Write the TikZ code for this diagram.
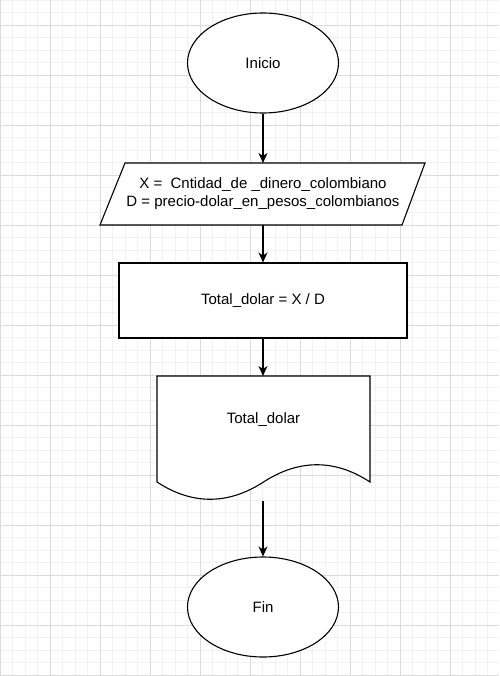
\documentclass[tikz,border=0pt]{standalone}
\usepackage{fontspec}
\setmainfont{Liberation Sans}
\usetikzlibrary{arrows.meta, positioning, shapes.geometric}

\tikzset{
    startstop/.style={ellipse, draw, line width=1.1pt, fill=white,
        minimum width=151pt, minimum height=100pt},
    processbox/.style={rectangle, draw, line width=1.1pt, fill=white,
        minimum width=288pt, minimum height=75pt},
    shapeline/.style={draw, line width=1.1pt, fill=white},
    flow/.style={-{Stealth[length=10pt, width=9pt, inset=3pt]}, line width=1.1pt}
}

\begin{document}
\begin{tikzpicture}[x=1pt, y=-1pt, font=\fontsize{15}{18}\selectfont]
        \useasboundingbox (0,0) rectangle (499,676);
        % grid
        \foreach \g in {0,12.5,...,500}
            \draw[black!5, line width=0.8pt] (\g,0) -- (\g,676);
        \foreach \g in {0,12.5,...,676}
            \draw[black!5, line width=0.8pt] (0,\g) -- (499,\g);
        \foreach \g in {0,50,...,500}
            \draw[black!14, line width=0.8pt] (\g,0) -- (\g,676);
        \foreach \g in {25,75,...,676}
            \draw[black!14, line width=0.8pt] (0,\g) -- (499,\g);

        \node[startstop] (inicio) at (263,63) {Inicio};

        % entrada
        \draw[shapeline] (125,163) -- (425,163) -- (402,225) -- (100,225) -- cycle;
        \coordinate (entrada-n) at (263,163);
        \coordinate (entrada-s) at (263,225);
        \node[align=center] (entrada) at (263,194)
            {X =~~Cntidad\_de \_dinero\_colombiano\\D = precio-dolar\_en\_pesos\_colombianos};

        \node[processbox] (proceso) at (263,300.5) {Total\_dolar = X / D};

        % salida
        \draw[shapeline] (157,376) -- (370,376) -- (370,482)
            .. controls (335,459) and (299,459) .. (263.5,482)
            .. controls (228,505) and (192,505) .. (157,482) -- cycle;
        \coordinate (salida-n) at (263,376);
        \coordinate (salida-s) at (263,501);
        \node (salida) at (263.5,420) {Total\_dolar};

        \node[startstop] (fin) at (263,607) {Fin};

        \draw[flow] (inicio) -- (entrada-n);
        \draw[flow] (entrada-s) -- (proceso);
        \draw[flow] (proceso) -- (salida-n);
        \draw[flow] (salida-s) -- (fin);
\end{tikzpicture}
\end{document}
